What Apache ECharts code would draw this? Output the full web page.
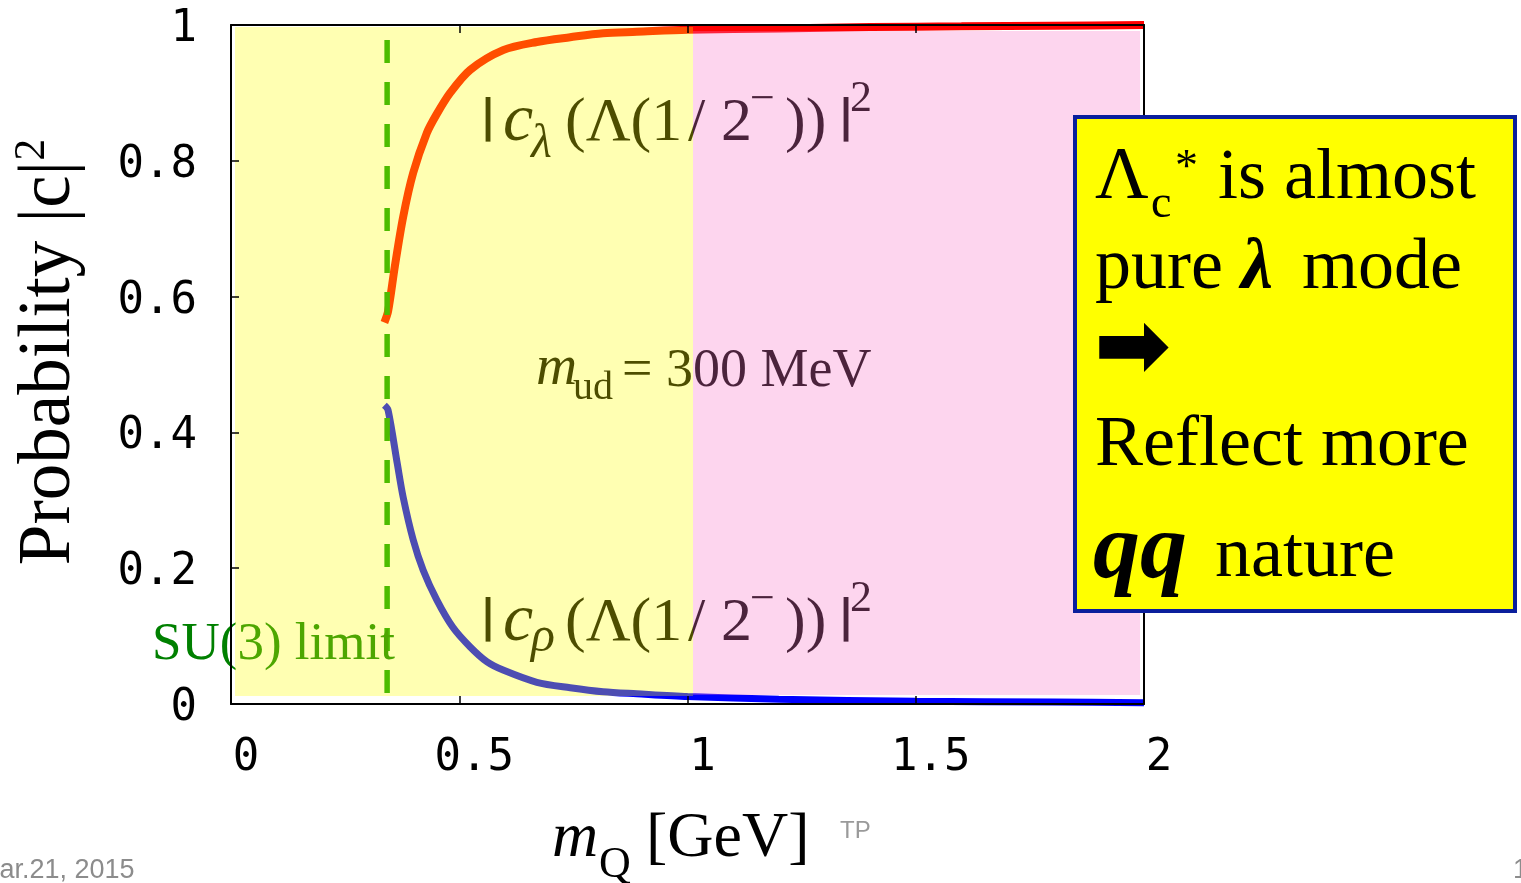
<!DOCTYPE html>
<html><head><meta charset="utf-8">
<script src="https://cdn.jsdelivr.net/npm/echarts@6/dist/echarts.min.js"></script>
<style>html,body{margin:0;padding:0;background:#fff;overflow:hidden}#c{width:1521px;height:883px}</style>
</head><body><div id="c"></div>
<script>
// ---- data ----
const xTickLabels = ['0', '0.5', '1', '1.5', '2'];
const yTickLabels = ['0', '0.2', '0.4', '0.6', '0.8', '1'];
const lambdaX = [0.336, 0.344, 0.359, 0.377, 0.399, 0.429, 0.45, 0.48, 0.524, 0.596, 0.67, 0.743, 0.815, 0.889, 1.0, 1.2, 1.4, 1.6, 1.8, 2.0];
const lambdaY = [0.562, 0.578, 0.645, 0.717, 0.782, 0.841, 0.868, 0.900, 0.934, 0.963, 0.975, 0.982, 0.988, 0.990, 0.993, 0.995, 0.997, 0.998, 0.999, 1.0];
const rhoX = [0.336, 0.344, 0.364, 0.377, 0.399, 0.421, 0.451, 0.486, 0.524, 0.561, 0.596, 0.670, 0.743, 0.815, 0.889, 1.0, 1.2, 1.5, 1.8, 2.0];
const rhoY = [0.440, 0.433, 0.355, 0.305, 0.242, 0.197, 0.153, 0.113, 0.084, 0.062, 0.050, 0.032, 0.024, 0.018, 0.015, 0.011, 0.007, 0.004, 0.003, 0.002];
const su3X = [0.342, 0.342];
const su3Y = [0.978, 0.0];

const chart = echarts.init(document.getElementById('c'), null, {renderer: 'canvas'});

const SERIF = '"Liberation Serif", "Times New Roman", serif';
const K = 0.29;
function T(x, base, text, size, o) {
  o = o || {};
  return {
    type: 'text', x: x, y: base - K * size, z: o.z || 5, silent: true,
    style: {
      text: text, fill: o.fill || '#000', fontSize: size,
      fontFamily: o.family || SERIF, fontStyle: o.style || 'normal',
      fontWeight: o.weight || 'normal', align: o.align || 'left', verticalAlign: 'middle'
    }
  };
}
const BAR = '"DejaVu Sans", sans-serif';
const MONO = '"DejaVu Sans Mono", monospace';

const axisCommon = {
  type: 'value', z: 10,
  axisLine: {show: true, onZero: false, lineStyle: {color: '#000', width: 2}},
  axisTick: {show: true, inside: true, length: 8, lineStyle: {color: '#000', width: 1.5}},
  splitLine: {show: false}
};
const tickFont = {fontFamily: MONO, fontSize: 44, color: '#000'};

const labels = [];
// |c_lambda(Lambda(1/2^-))|^2 and |c_rho(Lambda(1/2^-))|^2
function stateLabel(dy, subChar, subBase, subSize) {
  labels.push(
    T(480, 132 + dy, '|', 44, {family: BAR, weight: 'bold'}),
    T(503, 142 + dy, 'c', 68, {style: 'italic'}),
    T(531, subBase + dy, subChar, subSize, {style: 'italic'}),
    T(565, 142 + dy, '(Λ(1', 62),
    T(688, 142 + dy, '/', 62),
    T(721, 142 + dy, '2', 62),
    T(750, 113 + dy, '−', 44),
    T(785, 142 + dy, '))', 62),
    T(838, 132 + dy, '|', 44, {family: BAR, weight: 'bold'}),
    T(850, 112 + dy, '2', 44)
  );
}
stateLabel(0, 'λ', 158, 48);
stateLabel(500, 'ρ', 152, 50);
labels.push(
  T(536, 386, 'm', 57, {style: 'italic'}),
  T(573, 400, 'ud', 40),
  T(622, 387, '= 300 MeV', 54),
  T(152, 660, 'SU(3) limit', 53, {fill: '#008000'})
);

const overlays = [
  {type: 'rect', z: 8, silent: true, shape: {x: 235, y: 27, width: 458, height: 669}, style: {fill: 'rgba(255,255,0,0.3)'}},
  {type: 'rect', z: 8, silent: true, shape: {x: 693, y: 31, width: 447, height: 664}, style: {fill: 'rgba(247,117,200,0.3)'}}
];

const box = [
  {type: 'rect', z: 20, silent: true, shape: {x: 1075, y: 117, width: 440, height: 494}, style: {fill: '#ffff00', stroke: '#0a1f9c', lineWidth: 4}},
  T(1095, 200, 'Λ', 74, {z: 21}),
  T(1151, 218, 'c', 46, {z: 21}),
  T(1175, 182, '*', 46, {z: 21}),
  T(1218, 200, 'is almost', 72, {z: 21}),
  T(1095, 290, 'pure', 72, {z: 21}),
  T(1241, 290, 'λ', 72, {z: 21, style: 'italic', weight: 'bold'}),
  T(1302, 290, 'mode', 72, {z: 21}),
  T(1094, 379, '➡', 92, {z: 21, family: '"DejaVu Sans", sans-serif', weight: 'bold'}),
  T(1095, 467, 'Reflect more', 72, {z: 21}),
  T(1093, 580, 'qq', 94, {z: 21, style: 'italic', weight: 'bold'}),
  T(1215, 578, 'nature', 72, {z: 21})
];

const titles = [
  {type: 'text', x: 50, y: 352, rotation: Math.PI / 2, z: 5, silent: true,
   style: {text: 'Probability |c|{s|2}', fontSize: 73, fontFamily: SERIF, fill: '#000',
           align: 'center', verticalAlign: 'middle', lineHeight: 80,
           rich: {s: {fontSize: 44, fontFamily: SERIF, fill: '#000', verticalAlign: 'top', lineHeight: 44}}}},
  T(552, 858, 'm', 64, {style: 'italic'}),
  T(599, 878, 'Q', 44),
  T(646, 858, '[GeV]', 64),
  T(840, 838, 'TP', 24, {fill: '#9a9a9a', family: '"Liberation Sans", sans-serif'}),
  T(-23, 878, 'Mar.21, 2015', 27, {fill: '#8c8c8c', family: '"Liberation Sans", sans-serif'}),
  T(1513, 878, '1', 27, {fill: '#8c8c8c', family: '"Liberation Sans", sans-serif'})
];

chart.setOption({
  animation: false,
  backgroundColor: '#fff',
  grid: {left: 231, right: 377, top: 25, bottom: 179, outerBoundsMode: 'none'},
  xAxis: [
    Object.assign({}, axisCommon, {min: 0, max: 2, interval: 0.5, position: 'bottom',
      axisLabel: Object.assign({}, tickFont, {margin: 33, padding: [0, 0, 0, 30],
        formatter: v => xTickLabels[Math.round(v / 0.5)]})}),
    Object.assign({}, axisCommon, {min: 0, max: 2, interval: 0.5, position: 'top', axisLabel: {show: false}})
  ],
  yAxis: [
    Object.assign({}, axisCommon, {min: 0, max: 1, interval: 0.2, position: 'left',
      axisLabel: Object.assign({}, tickFont, {margin: 34,
        rich: {t: {fontFamily: MONO, fontSize: 44, color: '#000', padding: [9, 0, 0, 0]}},
        formatter: v => '{t|' + yTickLabels[Math.round(v / 0.2)] + '}'})}),
    Object.assign({}, axisCommon, {min: 0, max: 1, interval: 0.2, position: 'right', axisLabel: {show: false}})
  ],
  series: [
    {type: 'line', name: 'lambda', z: 2, showSymbol: false, smooth: 0.3,
     lineStyle: {color: '#ff0000', width: 8}, data: lambdaX.map((x, i) => [x, lambdaY[i]])},
    {type: 'line', name: 'rho', z: 2, showSymbol: false, smooth: 0.3,
     lineStyle: {color: '#0000ff', width: 7}, data: rhoX.map((x, i) => [x, rhoY[i]])},
    {type: 'line', name: 'su3', z: 3, showSymbol: false,
     lineStyle: {color: '#00a000', width: 5.5, type: [23, 19]}, data: su3X.map((x, i) => [x, su3Y[i]])}
  ],
  graphic: {elements: labels.concat(overlays, box, titles)}
});
</script></body></html>
